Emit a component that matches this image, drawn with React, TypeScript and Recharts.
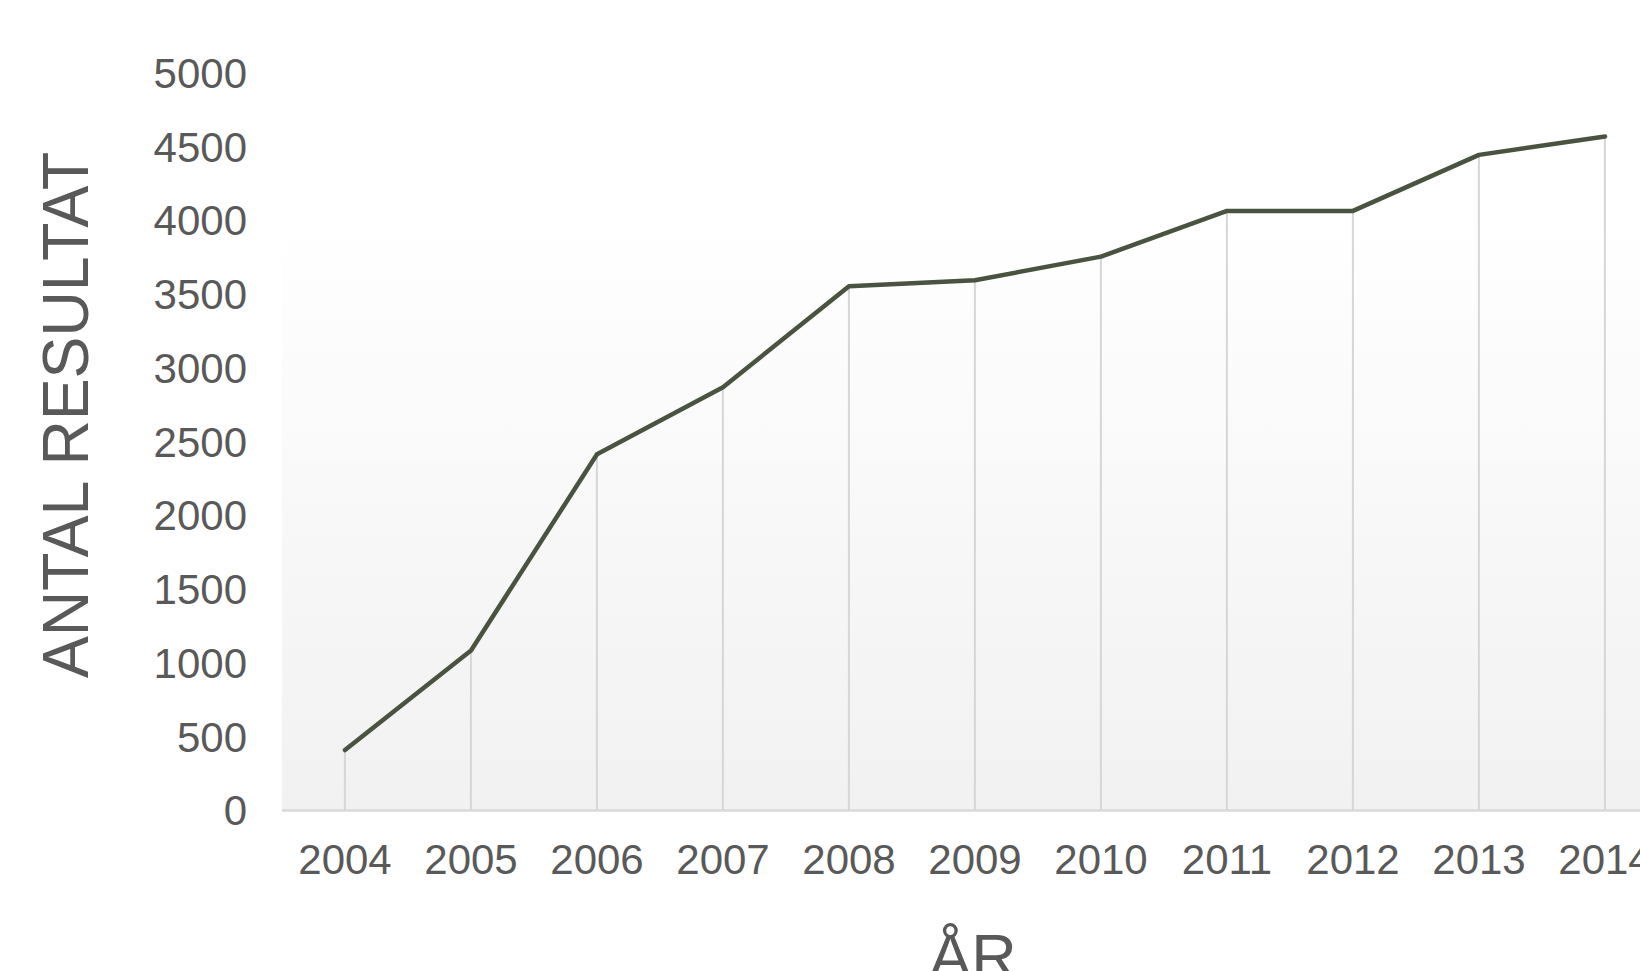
import { ComposedChart, Line, Bar, XAxis, YAxis, CartesianGrid } from "recharts"

// ─── Data ────────────────────────────────────────────────────────────────────

const years = ["2004", "2005", "2006", "2007", "2008", "2009", "2010", "2011", "2012", "2013", "2014"]
const antal = [410, 1085, 2415, 2870, 3555, 3595, 3755, 4065, 4065, 4445, 4570]
const yTicks = [0, 500, 1000, 1500, 2000, 2500, 3000, 3500, 4000, 4500, 5000]

const data = years.map((year, i) => ({ year, value: antal[i] }))

const FONT = "'Liberation Sans', Arial, Helvetica, sans-serif"
const TEXT = "#595959"

// drop line from each point down to the axis
function DropLine(props: any) {
  const { x, y, width, height } = props
  if (height == null || height <= 0) return null
  const cx = x + width / 2
  return <line x1={cx} x2={cx} y1={y} y2={y + height} stroke="#d6d6d6" strokeWidth={2} />
}

function YTitle(props: any) {
  const vb = props.viewBox
  const x = 88
  const y = vb.y + 342
  return (
    <text
      x={x}
      y={y}
      transform={`rotate(-90, ${x}, ${y})`}
      textAnchor="middle"
      fill={TEXT}
      fontSize={65}
      fontFamily={FONT}
      textLength={526}
      lengthAdjust="spacingAndGlyphs"
    >
      ANTAL RESULTAT
    </text>
  )
}

function XTitle(props: any) {
  const vb = props.viewBox
  return (
    <text
      x={vb.x + vb.width / 2 - 2}
      y={978}
      textAnchor="middle"
      fill={TEXT}
      fontSize={63}
      fontFamily={FONT}
    >
      ÅR
    </text>
  )
}

export default function App() {
  return (
    <div
      style={{
        position: "absolute",
        top: 0,
        left: 0,
        width: 1640,
        height: 971,
        overflow: "hidden",
        background: "#ffffff",
      }}
    >
      <ComposedChart
        width={1668}
        height={971}
        data={data}
        margin={{ top: 73, right: 0, left: 0, bottom: 0 }}
        barCategoryGap="40%"
      >
        <defs>
          <linearGradient id="plotBg" x1="0" y1="0" x2="0" y2="1">
            <stop offset="0%" stopColor="#ffffff" />
            <stop offset="20%" stopColor="#ffffff" />
            <stop offset="100%" stopColor="#f1f1f1" />
          </linearGradient>
        </defs>
        <CartesianGrid horizontal={false} vertical={false} fill="url(#plotBg)" />
        <XAxis
          dataKey="year"
          height={160.5}
          tickLine={false}
          tickSize={0}
          tickMargin={34}
          axisLine={{ stroke: "#d9d9d9", strokeWidth: 2.5 }}
          tick={{ fontSize: 42, fill: TEXT, fontFamily: FONT }}
          interval={0}
          label={{ content: XTitle }}
        />
        <YAxis
          width={282}
          domain={[0, 5000]}
          ticks={yTicks}
          axisLine={false}
          tickLine={false}
          tickSize={0}
          tickMargin={35}
          tick={{ fontSize: 42, fill: TEXT, fontFamily: FONT }}
          label={{ content: YTitle }}
        />
        <Bar dataKey="value" shape={DropLine} isAnimationActive={false} />
        <Line
          type="linear"
          dataKey="value"
          stroke="#4a5240"
          strokeWidth={4.5}
          strokeLinecap="round"
          strokeLinejoin="round"
          dot={false}
          activeDot={false}
          isAnimationActive={false}
        />
      </ComposedChart>
    </div>
  )
}
